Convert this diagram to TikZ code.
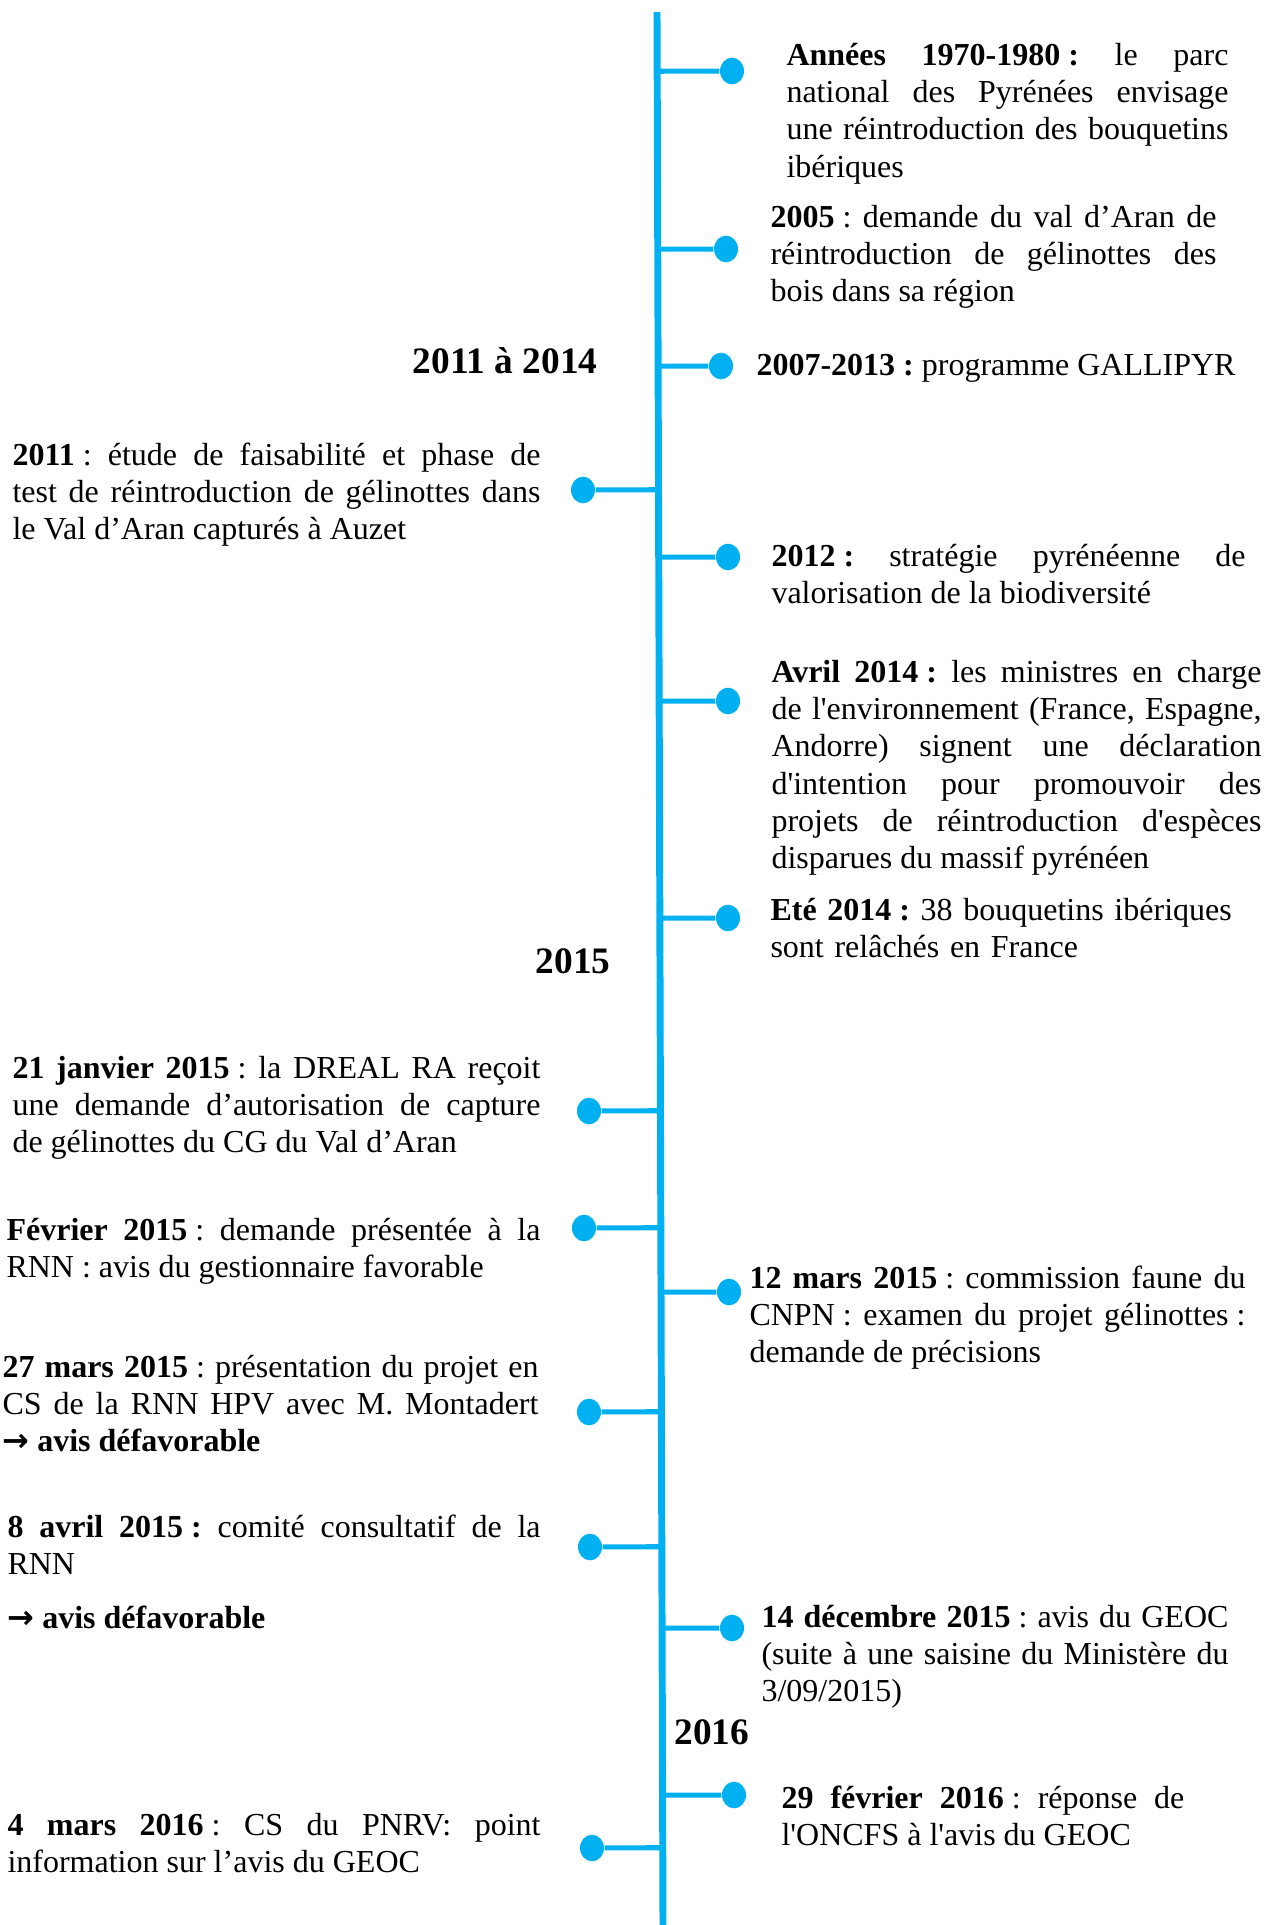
\documentclass[tikz,border=0pt]{standalone}
\usepackage{fontspec}
\setmainfont{Liberation Serif}[Ligatures=TeXOff]
\newfontfamily\arrowfont{DejaVu Sans}
\usetikzlibrary{calc,shapes.geometric}
\definecolor{tlblue}{RGB}{0,176,240}
\tolerance=10000 \hbadness=10000
\hyphenpenalty=10000 \exhyphenpenalty=10000
\frenchspacing
\newcommand{\tlarrow}{{\arrowfont\bfseries →}}
\newcommand{\cl}{\nobreak\hspace{0.25em}:}

\begin{document}
\begin{tikzpicture}[x=0.375pt,y=-0.375pt,
  spine/.style={draw=tlblue,line width=2.6pt},
  branch/.style={draw=tlblue,line width=1.9pt},
  dot/.style={ellipse,fill=tlblue,inner sep=0pt,minimum width=9pt,minimum height=10pt},
  evt/.style={inner sep=0pt,anchor=base west,align=justify,font=\fontsize{12}{14}\selectfont},
  yearlbl/.style={inner sep=0pt,font=\fontsize{14}{16}\selectfont\bfseries}]
\useasboundingbox (0,0) rectangle (1266,1925);

% spine
\coordinate (top) at (657,12);
\coordinate (bot) at (663,1925);
\draw[spine] (top) -- (bot);

% dots, each tied to the spine
\foreach \n/\x/\y in {r1/732/71, r2/726/249, r3/721/366, r4/728/557, r5/728/701,
    r6/728/918, r7/729/1292, r8/732/1628, r9/734/1795,
    l1/583/490, l2/589/1111, l3/584/1228, l4/589/1412, l5/590/1547, l6/592/1848}{
  \node[dot] (\n) at (\x,\y) {};
  \draw[branch] (\n) -- ($(top)!(\n)!(bot)$);
}

% year labels
\node[yearlbl,anchor=base east] (y1) at (598,373) {2011 à 2014};
\node[yearlbl,anchor=base east] (y2) at (611,973) {2015};
\node[yearlbl,anchor=base west] (y3) at (674,1744) {2016};

% right side
\node[evt,text width=165.75pt] (t1) at (786,65) {\textbf{Années 1970-1980\cl} le parc\linebreak national des Pyrénées envisage\linebreak une réintroduction des bouquetins\linebreak ibériques};
\node[evt,text width=167.25pt] (t2) at (770,227) {\textbf{2005}\cl{} demande du val d’Aran de\linebreak réintroduction de gélinottes des\linebreak bois dans sa région};
\node[evt] (t3) at (756,375) {\textbf{2007-2013\cl} programme GALLIPYR};
\node[evt,text width=177.75pt] (t4) at (771,566) {\textbf{2012\cl} stratégie pyrénéenne de\linebreak valorisation de la biodiversité};
\node[evt,text width=183.75pt] (t5) at (771,682) {\textbf{Avril 2014\cl} les ministres en charge\linebreak de l'environnement (France, Espagne,\linebreak Andorre) signent une déclaration\linebreak d'intention pour promouvoir des\linebreak projets de réintroduction d'espèces\linebreak disparues du massif pyrénéen};
\node[evt,text width=185pt,align=left] (t6) at (770,920) {\textbf{Eté 2014\cl} 38 bouquetins ibériques\\sont relâchés en France};
\node[evt,text width=186pt] (t7) at (749,1288) {\textbf{12 mars 2015}\cl{} commission faune du\linebreak CNPN\cl{} examen du projet gélinottes\cl\linebreak demande de précisions};
\node[evt,text width=175.1pt] (t8) at (761,1627) {\textbf{14 décembre 2015}\cl{} avis du GEOC\linebreak (suite à une saisine du Ministère du\linebreak 3/09/2015)};
\node[evt,text width=151.1pt] (t9) at (781,1808) {\textbf{29 février 2016}\cl{} réponse de\linebreak l'ONCFS à l'avis du GEOC};

% left side
\node[evt,text width=198pt] (s1) at (12,465) {\textbf{2011}\cl{} étude de faisabilité et phase de\linebreak test de réintroduction de gélinottes dans\linebreak le Val d’Aran capturés à Auzet};
\node[evt,text width=198pt] (s2) at (12,1078) {\textbf{21 janvier 2015}\cl{} la DREAL RA reçoit\linebreak une demande d’autorisation de capture\linebreak de gélinottes du CG du Val d’Aran};
\node[evt,text width=200.25pt] (s3) at (6,1240) {\textbf{Février 2015}\cl{} demande présentée à la\linebreak RNN\cl{} avis du gestionnaire favorable};
\node[evt,text width=201pt] (s4) at (2,1377) {\textbf{27 mars 2015}\cl{} présentation du projet en\linebreak CS de la RNN HPV avec M. Montadert\linebreak \tlarrow\ \textbf{avis défavorable}};
\node[evt,text width=199.9pt] (s5) at (7,1537) {\textbf{8 avril 2015\cl} comité consultatif de la\linebreak RNN\\[6.4pt]\tlarrow\ \textbf{avis défavorable}};
\node[evt,text width=199.9pt] (s6) at (7,1835) {\textbf{4 mars 2016}\cl{} CS du PNRV: point\linebreak information sur l’avis du GEOC};
\end{tikzpicture}
\end{document}
